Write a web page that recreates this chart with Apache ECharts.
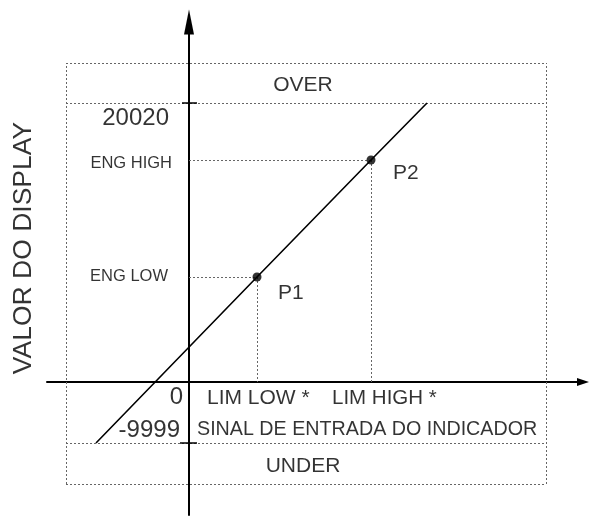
<!DOCTYPE html>
<html>
<head>
<meta charset="utf-8">
<script src="https://cdn.jsdelivr.net/npm/echarts@6/dist/echarts.min.js"></script>
<style>html,body{margin:0;padding:0;background:#fff}#c{width:590px;height:517px}</style>
</head>
<body>
<div id="c"></div>
<script>
// Schematic units (diagram is not to scale): origin = axis crossing.
var levelOver = 279;      // display 20020
var levelUnder = -61;     // display -9999
var engHigh = 222;
var engLow = 105;
var limLow = 68;
var limHigh = 182;
var boxX = [-123, 357];
var boxY = [-102, 319];
// transfer line (display value vs input signal)
var lineX = [-93, 68, 182, 238];
var lineY = [-61, 105, 222, 279];
var pointNames = ['P1', 'P2'];
var yTickLabels = ['20020', 'ENG HIGH', 'ENG LOW', '0', '-9999'];
var xTickLabels = ['LIM LOW *', 'LIM HIGH *'];
var bandLabels = ['OVER', 'UNDER'];
var xTitle = 'SINAL DE ENTRADA DO INDICADOR';
var yTitle = 'VALOR DO DISPLAY';

var FONT = 'Liberation Sans';
var lineData = lineX.map(function (x, i) { return [x, lineY[i]]; });
var pts = [[limLow, engLow], [limHigh, engHigh]];

var dotted = [
  [[boxX[0], boxY[1]], [boxX[1], boxY[1]]],
  [[boxX[0], boxY[0]], [boxX[1], boxY[0]]],
  [[boxX[0], boxY[0]], [boxX[0], boxY[1]]],
  [[boxX[1], boxY[0]], [boxX[1], boxY[1]]],
  [[boxX[0], levelOver], [boxX[1], levelOver]],
  [[boxX[0], levelUnder], [boxX[1], levelUnder]],
  [[0, engHigh], [limHigh, engHigh]],
  [[limHigh, engHigh], [limHigh, 0]],
  [[0, engLow], [limLow, engLow]],
  [[limLow, engLow], [limLow, 0]]
].map(function (c) { return { coords: c }; });

var ticks = [
  { coords: [[-7, levelOver], [8, levelOver]] },
  { coords: [[-9, levelUnder], [8, levelUnder]] }
];

function txt(x, y, text, align, vAlign, size, rotate) {
  return {
    value: [x, y],
    label: {
      show: true, formatter: text, position: [0, 0],
      align: align, verticalAlign: vAlign || 'middle',
      fontSize: size, fontFamily: FONT, color: '#000', rotate: rotate || 0
    }
  };
}
var labels = [
  txt((boxX[0] + boxX[1]) / 2 - 3, (boxY[1] + levelOver) / 2 - 2, bandLabels[0], 'center', 'middle', 21),
  txt((boxX[0] + boxX[1]) / 2 - 3, (boxY[0] + levelUnder) / 2 - 3, bandLabels[1], 'center', 'middle', 21),
  txt(-20, levelOver - 15, yTickLabels[0], 'right', 'middle', 24),
  txt(-17, engHigh - 3, yTickLabels[1], 'right', 'middle', 16.5),
  txt(-21, engLow + 1, yTickLabels[2], 'right', 'middle', 16.5),
  txt(-6, -15, yTickLabels[3], 'right', 'middle', 24),
  txt(-9, levelUnder + 13, yTickLabels[4], 'right', 'middle', 24),
  txt(limLow - 50, -16, xTickLabels[0], 'left', 'middle', 21),
  txt(limHigh - 39, -16, xTickLabels[1], 'left', 'middle', 20.5),
  txt(8, levelUnder + 13, xTitle, 'left', 'middle', 19.7),
  txt(limLow + 21, engLow - 16, pointNames[0], 'left', 'middle', 21),
  txt(limHigh + 22, engHigh - 13, pointNames[1], 'left', 'middle', 21),
  txt(-165, 134, yTitle, 'center', 'middle', 26.5, 90)
];

var chart = echarts.init(document.getElementById('c'), null, { renderer: 'canvas' });
chart.setOption({
  animation: false,
  backgroundColor: '#fff',
  grid: { left: 47, right: 7, top: 22, bottom: 2, containLabel: false },
  xAxis: {
    type: 'value', min: -142, max: 394,
    splitLine: { show: false }, axisTick: { show: false }, axisLabel: { show: false },
    axisLine: { onZero: true, lineStyle: { color: '#000', width: 2 },
      symbol: ['none', 'triangle'], symbolSize: [8, 12] }
  },
  yAxis: {
    type: 'value', min: -133, max: 360,
    splitLine: { show: false }, axisTick: { show: false }, axisLabel: { show: false },
    axisLine: { onZero: true, lineStyle: { color: '#000', width: 2 },
      symbol: ['none', 'triangle'], symbolSize: [10, 25] }
  },
  series: [
    { type: 'lines', coordinateSystem: 'cartesian2d', data: dotted, z: 1,
      lineStyle: { color: '#666', width: 1, type: [2, 2], opacity: 1 } },
    { type: 'lines', coordinateSystem: 'cartesian2d', data: ticks, z: 3,
      lineStyle: { color: '#000', width: 1.5, opacity: 1 } },
    { type: 'line', data: lineData, showSymbol: false, symbol: 'none', z: 4,
      lineStyle: { color: '#000', width: 1.6 } },
    { type: 'scatter', data: pts, symbolSize: 9, z: 5, itemStyle: { color: '#000' } },
    { type: 'scatter', data: labels, symbolSize: 0, clip: false, z: 6, silent: true }
  ]
});
</script>
</body>
</html>
